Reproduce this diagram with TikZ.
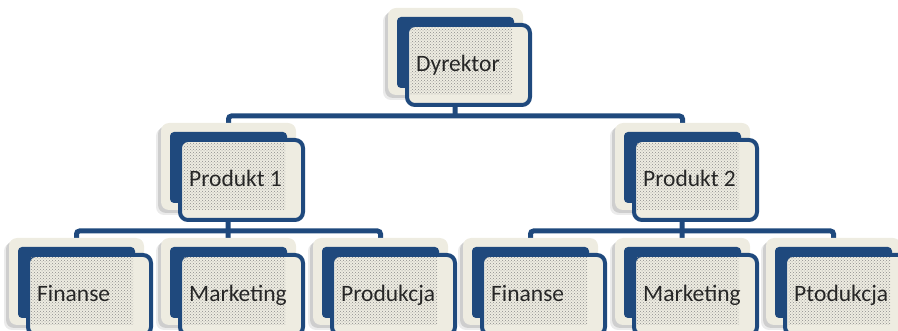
\documentclass[tikz,border=0pt]{standalone}
\usepackage{fontspec}
\setmainfont{Carlito}
\usetikzlibrary{patterns,shadows,backgrounds}

\definecolor{orgblue}{HTML}{1F497D}
\definecolor{orgcream}{HTML}{EEECE1}
\definecolor{orgtext}{HTML}{262626}

\tikzset{
  backcard/.style={rectangle, rounded corners=8pt, fill=orgcream, inner sep=0pt,
    minimum width=135pt, minimum height=87pt,
    general shadow={fill=black, opacity=0.12, shadow xshift=-3pt, shadow yshift=-3pt},
    general shadow={fill=black, opacity=0.08, shadow xshift=-5pt, shadow yshift=-5pt}},
  midcard/.style={rectangle, rounded corners=4pt, fill=orgblue, inner sep=0pt,
    minimum width=117pt, minimum height=71pt},
  frontcard/.style={rectangle, rounded corners=8pt, fill=orgcream, draw=orgblue,
    line width=4pt, inner sep=0pt, minimum width=123pt, minimum height=80pt},
  dotted area/.style={rectangle, inner sep=0pt, fill=orgcream,
    pattern=crosshatch dots, pattern color=black!45,
    minimum width=102pt, minimum height=67pt},
  unitlabel/.style={anchor=base west, inner sep=0pt, text=orgtext,
    font=\fontsize{23.5}{27}\selectfont},
  bus/.style={draw=orgblue, line width=5pt, rounded corners=3pt},
}

% one unit of the chart: back card, blue card, framed front card and its label
% #1 name, #2 x of the blue card centre, #3 top edge of the back card, #4 label
\newcommand\orgunit[4]{%
  \node[backcard] (#1-back) at ({#2+0.5},{#3+43.5}) {};
  \node[midcard] (#1) at ({#2+0.5},{#3+44.5}) {};
  \node[frontcard] (#1-front) at ({#2+13.5},{#3+57}) {};
  \node[dotted area] (#1-dots) at ({#2+6},{#3+53.5}) {};
  \node[unitlabel] (#1-label) at ({#2-39},{#3+64}) {#4};
}

\begin{document}
\begin{tikzpicture}[x=1pt, y=-1pt]
  \useasboundingbox (0,0) rectangle (898,331);
  \clip (0,0) rectangle (898,331);

  % top level
  \orgunit{dyr}{455}{8}{Dyrektor}

  % product divisions
  \orgunit{pa}{228}{123}{Produkt 1}
  \orgunit{pb}{682}{123}{Produkt 2}

  % departments of the first product
  \orgunit{pa1}{76}{238}{Finanse}
  \orgunit{pa2}{228}{238}{Marketing}
  \orgunit{pa3}{380}{238}{Produkcja}

  % departments of the second product
  \orgunit{pb1}{530}{238}{Finanse}
  \orgunit{pb2}{682}{238}{Marketing}
  \orgunit{pb3}{833}{238}{Ptodukcja}

  % connecting lines, kept behind the cards
  \coordinate (bus0) at (455,116);
  \coordinate (busa) at (228,231);
  \coordinate (busb) at (682,231);
  \begin{scope}[on background layer]
    \draw[bus] (dyr.south) -- (bus0);
    \draw[bus] (pa.north) |- (bus0) -| (pb.north);
    \draw[bus] (pa.south) -- (busa);
    \draw[bus] (pa1.north) |- (busa) -| (pa3.north);
    \draw[bus] (busa) -- (pa2.north);
    \draw[bus] (pb.south) -- (busb);
    \draw[bus] (pb1.north) |- (busb) -| (pb3.north);
    \draw[bus] (busb) -- (pb2.north);
  \end{scope}
\end{tikzpicture}
\end{document}
